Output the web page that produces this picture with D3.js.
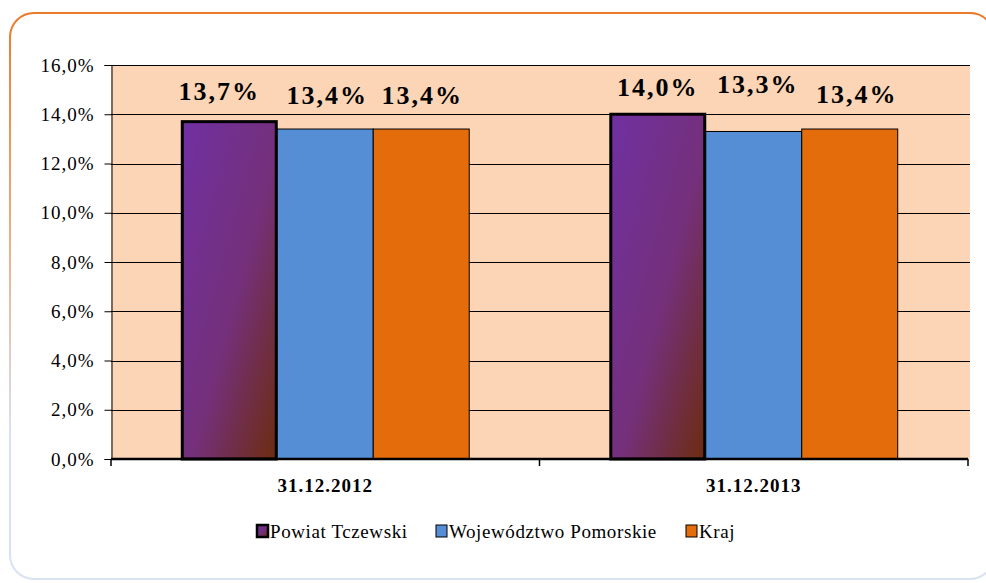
<!DOCTYPE html>
<html><head><meta charset="utf-8">
<script src="https://cdn.jsdelivr.net/npm/d3@7"></script>
<style>body{margin:0;background:#fff;} svg{display:block;} text{font-family:"Liberation Serif","Times New Roman","DejaVu Serif",serif;}</style>
</head><body>
<svg id="c" width="986" height="583"></svg>
<script>
const categories = ["31.12.2012", "31.12.2013"];
const seriesNames = ["Powiat Tczewski", "Województwo Pomorskie", "Kraj"];
const powiat = [13.7, 14.0];
const wojewodztwo = [13.4, 13.3];
const kraj = [13.4, 13.4];
const yTicks = [0, 2, 4, 6, 8, 10, 12, 14, 16];
const labelLift = [[22, 25, 25], [18, 38, 26]];
const labelShift = [[-10, 2, 1], [0, 4, 7]];

(function(){
const seriesValues = [powiat, wojewodztwo, kraj];
const fmt = v => v.toFixed(1).replace(".", ",") + "%";
const FONT = '"Liberation Serif","Times New Roman","DejaVu Serif",serif';

const svg = d3.select("#c");
const defs = svg.append("defs");
const bg = defs.append("linearGradient").attr("id","frameGrad").attr("x1",0).attr("y1",0).attr("x2",0).attr("y2",1);
bg.append("stop").attr("offset","0%").attr("stop-color","#E97B2A");
bg.append("stop").attr("offset","35%").attr("stop-color","#EFA778");
bg.append("stop").attr("offset","75%").attr("stop-color","#D8E2F3");
bg.append("stop").attr("offset","100%").attr("stop-color","#D8E2F3");
const pg = defs.append("linearGradient").attr("id","purpleGrad").attr("x1",0).attr("y1",0).attr("x2",1).attr("y2",1);
pg.append("stop").attr("offset","0%").attr("stop-color","#7030A2");
pg.append("stop").attr("offset","55%").attr("stop-color","#74307A");
pg.append("stop").attr("offset","100%").attr("stop-color","#6C2C0E");

svg.append("rect").attr("x",10).attr("y",13).attr("width",984).attr("height",566)
  .attr("rx",24).attr("ry",24).attr("fill","#fff")
  .attr("stroke","url(#frameGrad)").attr("stroke-width",2);

const pl = 111, pr = 968, pt = 65, pb = 459;
const y = d3.scaleLinear().domain([0,16]).range([pb, pt]);
const x0 = d3.scaleBand().domain(categories).range([pl, pr]).paddingInner(0.328).paddingOuter(0.164);
const x1 = d3.scaleBand().domain(seriesNames).range([0, x0.bandwidth()]);
const fills = ["url(#purpleGrad)", "#558ED5", "#E46C0A"];

svg.append("rect").attr("x",pl).attr("y",pt).attr("width",pr-pl+2).attr("height",pb-pt).attr("fill","#FBD5B5");

svg.append("g").selectAll("line").data(yTicks.filter(d=>d>0)).join("line")
  .attr("x1",pl).attr("x2",pr+2).attr("y1",d=>Math.round(y(d))+0.5).attr("y2",d=>Math.round(y(d))+0.5)
  .attr("stroke","#000").attr("stroke-width",1);

const yAxis = d3.axisLeft(y).tickValues(yTicks).tickFormat(fmt).tickSize(7).tickPadding(10);
const ga = svg.append("g").attr("transform",`translate(${pl+0.5},0)`).call(yAxis);
ga.attr("font-family", FONT);
ga.select(".domain").attr("stroke","#000");
ga.selectAll(".tick line").attr("stroke","#000");
ga.selectAll(".tick text").attr("font-family",FONT).attr("font-size",19)
  .attr("letter-spacing",1).attr("fill","#000");

const groups = svg.append("g").selectAll("g").data(categories).join("g")
  .attr("transform", d=>`translate(${x0(d)},0)`);
groups.each(function(cat, ci){
  const g = d3.select(this);
  const data = seriesNames.map((s, si)=>({s, si, v: seriesValues[si][ci]}));
  g.selectAll("rect").data(data).join("rect")
    .attr("x", d=>x1(d.s) + (d.si===0?1:0)).attr("y", d=>y(d.v))
    .attr("width", d=>x1.bandwidth() - (d.si===0?2:0)).attr("height", d=>y(0)-y(d.v))
    .attr("fill", d=>fills[d.si]).attr("stroke","#000").attr("stroke-width", d=>d.si===0?3:1);
  g.selectAll("text").data(data).join("text")
    .attr("x", d=>x1(d.s)+x1.bandwidth()/2+labelShift[ci][d.si]).attr("y", d=>y(d.v)-labelLift[ci][d.si])
    .attr("text-anchor","middle").attr("font-family",FONT)
    .attr("font-weight","bold").attr("font-size",26).attr("letter-spacing",2)
    .text(d=>fmt(d.v));
});

svg.append("line").attr("x1",pl).attr("x2",pr).attr("y1",pb).attr("y2",pb).attr("stroke","#000").attr("stroke-width",2.5);
svg.append("g").selectAll("line").data([pl, (pl+pr)/2, pr]).join("line")
  .attr("x1",d=>d).attr("x2",d=>d).attr("y1",pb).attr("y2",pb+7).attr("stroke","#000").attr("stroke-width",1.5);
svg.append("g").selectAll("text").data(categories).join("text")
  .attr("x", d=>x0(d)+x0.bandwidth()/2).attr("y", 492).attr("text-anchor","middle")
  .attr("font-family",FONT).attr("font-weight","bold").attr("font-size",19)
  .attr("letter-spacing",1).text(d=>d);

const legX = [257, 436, 686];
const lg = svg.append("g").selectAll("g").data(seriesNames).join("g")
  .attr("transform",(d,i)=>`translate(${legX[i]},525)`);
lg.append("rect").attr("x",0).attr("y",0).attr("width",11).attr("height",12)
  .attr("fill",(d,i)=>fills[i]).attr("stroke","#000").attr("stroke-width",(d,i)=>i===0?2.5:1);
lg.append("text").attr("x",13).attr("y",13).attr("font-family",FONT)
  .attr("font-size",19).attr("letter-spacing",0.6).text(d=>d);
})();
</script>
</body></html>
